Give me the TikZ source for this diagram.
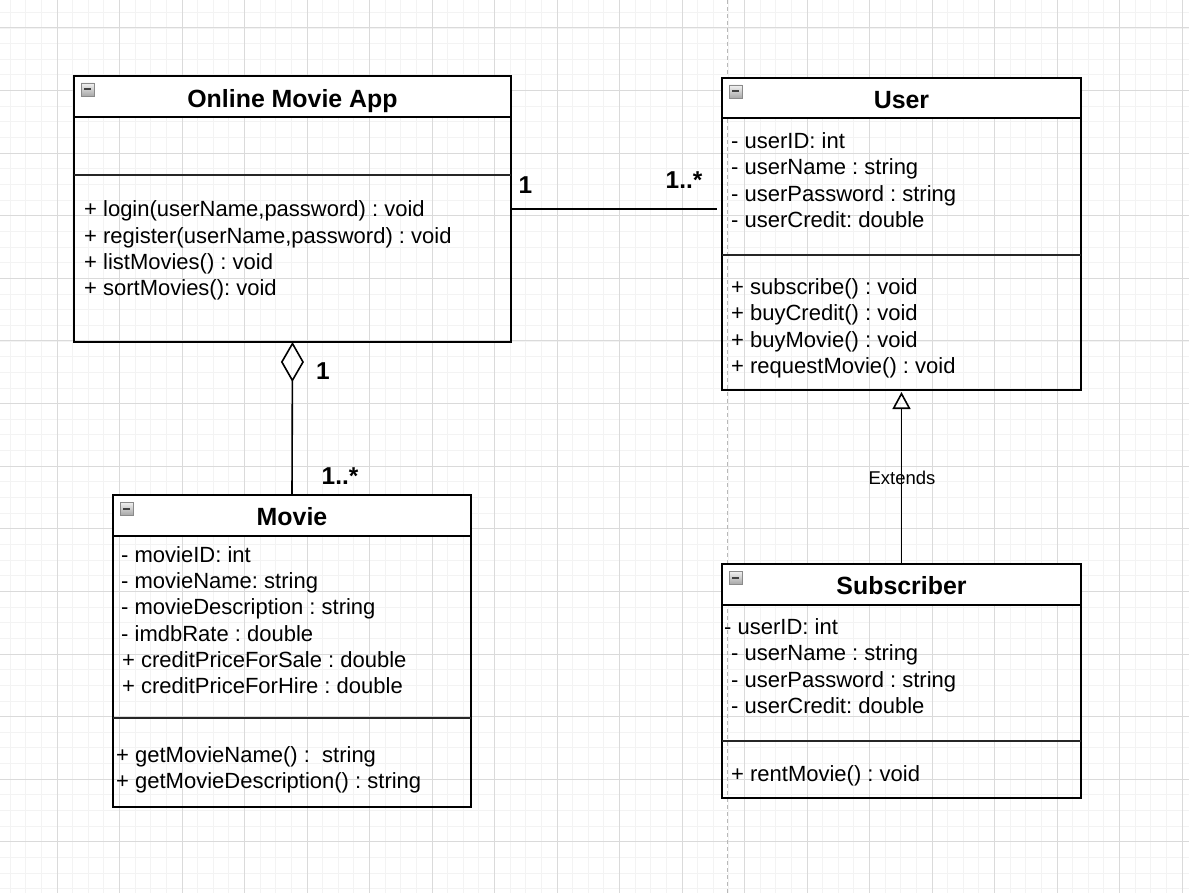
\documentclass[tikz,border=0pt]{standalone}
\usepackage{fontspec}
\setmainfont{Liberation Sans}
\usetikzlibrary{arrows.meta}
\frenchspacing
\definecolor{gminor}{HTML}{F3F3F3}
\definecolor{gmajor}{HTML}{DADADA}
\definecolor{pbreak}{HTML}{B8B8B8}
\definecolor{iconbd}{HTML}{8A8A8A}
\definecolor{icontop}{HTML}{F2F2F2}
\definecolor{iconbot}{HTML}{A8A8A8}
\definecolor{iconminus}{HTML}{404040}
\begin{document}
\begin{tikzpicture}[x=1pt,y=-1pt,
  box/.style={draw=black,line width=1.6pt,inner sep=0pt,outer sep=0pt,anchor=north west},
  head/.style={fill=white,inner sep=0pt,outer sep=0pt,anchor=north west},
  sepline/.style={line width=1.6pt,draw=black},
  sepbold/.style={line width=2.2pt,draw=black!85},
  txt/.style={anchor=base west,inner sep=0pt,font=\fontsize{22}{26}\selectfont},
  ttl/.style={anchor=base,inner sep=0pt,font=\fontsize{24.9}{29}\selectfont\bfseries},
  mult/.style={anchor=base,inner sep=0pt,font=\fontsize{24.4}{28}\selectfont\bfseries},
  lbl/.style={anchor=base,inner sep=0pt,font=\fontsize{18.5}{22}\selectfont},
  conn/.style={line width=1.6pt,draw=black},
  icon/.style={anchor=north west,minimum size=13pt,inner sep=0pt,outer sep=0pt,draw=iconbd,line width=0.8pt,
    top color=icontop,bottom color=iconbot,
    path picture={\draw[line width=2pt,iconminus] ([xshift=3pt]path picture bounding box.west) -- ([xshift=-3pt]path picture bounding box.east);}}
]
% background and bounding box
\fill[white] (0,0) rectangle (1189,893);
\useasboundingbox (0,0) rectangle (1189,893);
% grid
\foreach \i in {0,...,76} \draw[gminor,line width=1pt] ({10.125+15.625*\i},0) -- ({10.125+15.625*\i},893);
\foreach \i in {0,...,57} \draw[gminor,line width=1pt] (0,{12.4+15.65*\i}) -- (1189,{12.4+15.65*\i});
\foreach \i in {0,...,18} \draw[gmajor,line width=1pt] ({57+62.5*\i},0) -- ({57+62.5*\i},893);
\foreach \i in {0,...,13} \draw[gmajor,line width=1pt] (0,{28+62.6*\i}) -- (1189,{28+62.6*\i});
% page break line
\coordinate (pbtop) at (727,0);
\coordinate (pbbot) at (727,893);
\draw[pbreak,line width=1pt,dash pattern=on 4pt off 3pt] (pbtop) -- (pbbot);

% ---------- Online Movie App ----------
\node[head,minimum width=437pt,minimum height=41pt] (omah) at (74,76) {};
\node[box,minimum width=437pt,minimum height=266pt] (oma) at (74,76) {};
\draw[sepline] (74,117) -- (511,117);
\draw[sepbold] (74,175) -- (511,175);
\node[icon] (omai) at (81,83) {};
\node[ttl] (omat) at (292.5,107.5) {Online Movie App};
\node[txt] (omam1) at (84,217) {+ login(userName,password) : void};
\node[txt] (omam2) at (84,243.2) {+ register(userName,password) : void};
\node[txt] (omam3) at (84,269.4) {+ listMovies() : void};
\node[txt] (omam4) at (84,295.6) {+ sortMovies(): void};

% ---------- User ----------
\node[head,minimum width=359pt,minimum height=40pt] (userh) at (722,78) {};
\node[box,minimum width=359pt,minimum height=312pt] (user) at (722,78) {};
\draw[sepline] (722,118) -- (1081,118);
\draw[sepbold] (722,255) -- (1081,255);
\node[icon] (useri) at (729,85) {};
\node[ttl] (usert) at (901.5,108.5) {User};
\node[txt] (usera1) at (731,148.5) {- userID: int};
\node[txt] (usera2) at (731,174.8) {- userName : string};
\node[txt] (usera3) at (731,201.1) {- userPassword : string};
\node[txt] (usera4) at (731,227.4) {- userCredit: double};
\node[txt] (userm1) at (731,294.5) {+ subscribe() : void};
\node[txt] (userm2) at (731,320.8) {+ buyCredit() : void};
\node[txt] (userm3) at (731,347.1) {+ buyMovie() : void};
\node[txt] (userm4) at (731,373.4) {+ requestMovie() : void};

% ---------- Movie ----------
\node[head,minimum width=358pt,minimum height=41pt] (movieh) at (113,495) {};
\node[box,minimum width=358pt,minimum height=312pt] (movie) at (113,495) {};
\draw[sepline] (113,536) -- (471,536);
\draw[sepbold] (113,718) -- (471,718);
\node[icon] (moviei) at (120,502) {};
\node[ttl] (moviet) at (292,525.5) {Movie};
\node[txt] (moviea1) at (121,562.5) {- movieID: int};
\node[txt] (moviea2) at (121,588.7) {- movieName: string};
\node[txt] (moviea3) at (121,614.9) {- movieDescription : string};
\node[txt] (moviea4) at (121,641.1) {- imdbRate : double};
\node[txt] (moviea5) at (122,667.3) {+ creditPriceForSale : double};
\node[txt] (moviea6) at (122,693.5) {+ creditPriceForHire : double};
\node[txt] (moviem1) at (116,762.5) {+ getMovieName() :\ \ string};
\node[txt] (moviem2) at (116,788.7) {+ getMovieDescription() : string};

% ---------- Subscriber ----------
\node[head,minimum width=359pt,minimum height=41pt] (subh) at (722,564) {};
\node[box,minimum width=359pt,minimum height=234pt] (sub) at (722,564) {};
\draw[sepline] (722,605) -- (1081,605);
\draw[sepbold] (722,741) -- (1081,741);
\node[icon] (subi) at (729,571) {};
\node[ttl] (subt) at (901.5,594.5) {Subscriber};
\node[txt] (suba1) at (724,634.5) {- userID: int};
\node[txt] (suba2) at (731,660.8) {- userName : string};
\node[txt] (suba3) at (731,687.1) {- userPassword : string};
\node[txt] (suba4) at (731,713.4) {- userCredit: double};
\node[txt] (subm1) at (731,781.5) {+ rentMovie() : void};

% ---------- connectors ----------
\coordinate (assocy) at (0,209);
\draw[conn,shorten >=5pt] (oma.east |- assocy) -- (user.west |- assocy);
\node[mult] (m1) at (525.5,193.5) {1};
\node[mult] (m2) at (684,188.5) {1..*};

\draw[conn,-{Diamond[open,length=40pt,width=23pt,line width=1.6pt]}] (movie.north) -- (oma.south);
\node[mult] (m3) at (323,379.5) {1};
\node[mult] (m4) at (340,484.5) {1..*};

\draw[conn,shorten >=2pt,-{Triangle[open,length=17pt,width=18pt,line width=1.6pt]}] (sub.north) -- (user.south);
\node[lbl] (ext) at (902,484.5) {Extends};
\end{tikzpicture}
\end{document}
